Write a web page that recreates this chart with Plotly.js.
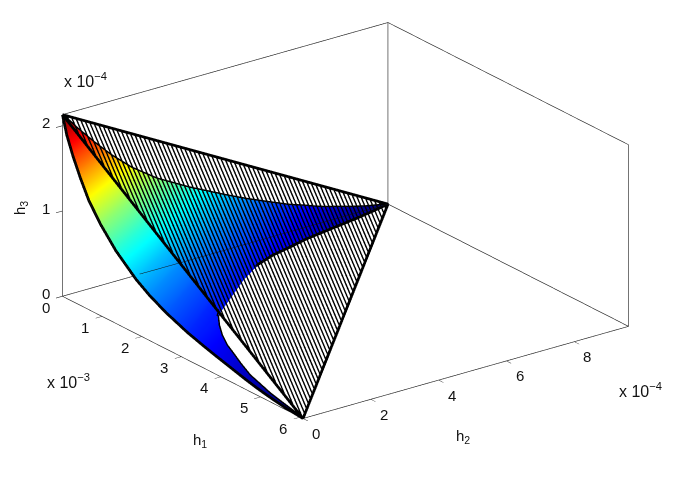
<!DOCTYPE html>
<html>
<head>
<meta charset="utf-8">
<script src="https://cdn.plot.ly/plotly-3.0.1.min.js"></script>
<style>html,body{margin:0;padding:0;background:#fff}#chart{width:685px;height:482px}</style>
</head>
<body>
<div id="chart"></div>
<script>
// axis limits
const h1Max = 6.07e-3, h2Max = 9.6e-4, h3Max = 2.13e-4;
const h1Ticks = [0, 1, 2, 3, 4, 5, 6];
const h2Ticks = [0, 2, 4, 6, 8];
const h3Ticks = [0, 1, 2];

// surface edges: h1 x1e-3, h2 x1e-4, h3 x1e-4
const levelH3 = [2.13, 1.917, 1.704, 1.491, 1.278, 1.065, 0.852, 0.639, 0.5325, 0.426, 0.3195, 0.2876, 0.2556, 0.213, 0.181, 0.149, 0.117, 0.085, 0.064, 0.043, 0.021, 0];
const outerH1 = [0, 0.109, 0.267, 0.455, 0.668, 0.971, 1.348, 1.851, 2.185, 2.61, 3.156, 3.369, 3.581, 3.885, 4.128, 4.37, 4.613, 4.886, 5.099, 5.342, 5.645, 6.07];
const upperH2 = [0, 0.442, 0.922, 1.44, 2.035, 2.784, 3.744, 4.829, 5.405, 6.029, 6.672, 6.912, 7.152, 7.44, 7.68, 7.968, 8.256, 8.544, 8.755, 8.976, 9.264, 9.6];
const cusp = 11; // level of the cusp

const innerBH1 = [2.821, 2.579, 2.331, 2.008, 1.698, 1.482, 1.261, 1.077, 0.886, 0.7, 0.515, 0.341, 0.169, 0];
const innerBH2 = [1.284, 1.626, 2.063, 2.676, 3.334, 4.0, 4.731, 5.447, 6.143, 6.862, 7.581, 8.287, 8.96, 9.6];
const innerBH3 = [0.2876, 0.2854, 0.2833, 0.279, 0.2726, 0.2641, 0.2471, 0.2173, 0.1874, 0.1448, 0.1022, 0.0639, 0.0298, 0];

const innerCH1 = [2.821, 3.055, 3.332, 3.617, 3.845, 4.177, 4.506, 4.809, 5.105, 5.479, 6.07];
const innerCH2 = [1.284, 1.04, 0.804, 0.62, 0.531, 0.38, 0.261, 0.204, 0.152, 0.1, 0];
const innerCH3 = [0.2876, 0.2641, 0.2386, 0.2087, 0.1789, 0.1448, 0.1065, 0.0788, 0.049, 0.0256, 0];

const hatchCount = 72;

const jet = [[0, '#000080'], [0.11, '#0000ff'], [0.36, '#00ffff'], [0.61, '#ffff00'], [0.86, '#ff0000'], [1, '#800000']];

const outer = levelH3.map((z, i) => [outerH1[i] * 1e-3, 0, z * 1e-4]);
const upper = levelH3.map((z, i) => [0, upperH2[i] * 1e-4, z * 1e-4]);
const innerB = innerBH1.map((v, i) => [v * 1e-3, innerBH2[i] * 1e-4, innerBH3[i] * 1e-4]);
const innerC = innerCH1.map((v, i) => [v * 1e-3, innerCH2[i] * 1e-4, innerCH3[i] * 1e-4]);
const col = (a, n) => a.map(p => p[n]);

// surface mesh, zipped between pairs of edges
const mx = [], my = [], mz = [], mi = [], mj = [], mk = [];
function strip(P, Q) {
    const base = mx.length, off = P.length;
    P.concat(Q).forEach(p => { mx.push(p[0]); my.push(p[1]); mz.push(p[2]); });
    let a = 0, b = 0;
    while (a < P.length - 1 || b < Q.length - 1) {
        const fa = (a + 1) / (P.length - 1), fb = (b + 1) / (Q.length - 1);
        mi.push(base + a); mj.push(base + off + b);
        if (b >= Q.length - 1 || (a < P.length - 1 && fa <= fb)) { mk.push(base + a + 1); a++; }
        else { mk.push(base + off + b + 1); b++; }
    }
}
strip(outer.slice(0, cusp + 1).concat([innerB[0]]), upper.slice(0, cusp + 1).concat([innerB[0]]));
strip(outer.slice(cusp), innerC);
strip(innerB, upper.slice(cusp));

// hatching on the plane through the three axis points
const hx = [], hy = [], hz = [];
const dU = -2.275e-3, dV = -1.452e-3, dW = 3.727e-3;
for (let n = 0; n <= hatchCount; n++) {
    const q = n / hatchCount;
    const len = Math.min((1 - q) / -dU, q / -dV);
    const u2 = (1 - q) + dU * len, v2 = q + dV * len, w2 = dW * len;
    hx.push(0, w2 * h1Max, null);
    hy.push(q * h2Max, v2 * h2Max, null);
    hz.push((1 - q) * h3Max, u2 * h3Max, null);
}

const curve = (a, width) => ({
    type: 'scatter3d', mode: 'lines', x: col(a, 0), y: col(a, 1), z: col(a, 2),
    line: { color: '#000', width: width || 5.5 }, hoverinfo: 'skip', showlegend: false
});

const boxX = [0, h1Max, h1Max, h1Max, h1Max, 0, 0, 0, null, 0, 0, null, 0, 0, h1Max];
const boxY = [0, 0, h2Max, h2Max, h2Max, h2Max, 0, 0, null, h2Max, h2Max, null, 0, h2Max, h2Max];
const boxZ = [0, 0, 0, h3Max, h3Max, h3Max, h3Max, 0, null, h3Max, 0, null, 0, 0, 0];

// back floor edge, seen through the surface
const backX = [0.321 * h1Max, 0.4896 * h1Max, 0], backY = [0, 0, h2Max], backZ = [0.338 * h3Max, 0.514 * h3Max, 0];

const traces = [
    {
        type: 'mesh3d', x: mx, y: my, z: mz, i: mi, j: mj, k: mk,
        intensity: mz, colorscale: jet, cmin: 0, cmax: h3Max, showscale: false,
        flatshading: false, hoverinfo: 'skip',
        lighting: { ambient: 1, diffuse: 0, specular: 0, roughness: 1, fresnel: 0 }
    },
    { type: 'scatter3d', mode: 'lines', x: boxX, y: boxY, z: boxZ, line: { color: '#222', width: 1.3 }, hoverinfo: 'skip', showlegend: false },
    { type: 'scatter3d', mode: 'lines', x: backX, y: backY, z: backZ, line: { color: '#111', width: 1 }, hoverinfo: 'skip', showlegend: false },
    { type: 'scatter3d', mode: 'lines', x: hx, y: hy, z: hz, line: { color: '#000', width: 2.8 }, hoverinfo: 'skip', showlegend: false, connectgaps: false },
    curve([[0, 0, h3Max], [0, h2Max, 0], [h1Max, 0, 0], [0, 0, h3Max]]),
    curve(outer),
    curve(upper),
    curve(innerB),
    curve(innerC)
];

const tickFont = { family: '"Liberation Sans", Arial, sans-serif', size: 15, color: '#111' };
const noteFont = { family: '"Liberation Sans", Arial, sans-serif', size: 16, color: '#111' };
const label = (x, y, z, text, xshift, yshift) => ({ x, y, z, text, xshift, yshift, showarrow: false, font: tickFont });
const sceneNotes = [
    ...h1Ticks.map(v => label(v * 1e-3, 0, 0, String(v), -17, -11)),
    ...h2Ticks.map(v => label(h1Max, v * 1e-4, 0, String(v), 13, -15)),
    ...h3Ticks.map(v => label(0, 0, v * 1e-4, String(v), -17, 3))
];

const paperNote = (px, py, text, angle, font) => ({
    xref: 'paper', yref: 'paper', x: px / 685, y: 1 - py / 482, text, showarrow: false,
    xanchor: 'center', yanchor: 'middle', textangle: angle || 0, font: font || noteFont
});

const axis = (vals, max) => ({
    range: [0, max], autorange: false, tickmode: 'array', tickvals: vals, ticks: 'outside', ticklen: 8,
    tickcolor: '#222', tickwidth: 1.2, showticklabels: false, showgrid: false, zeroline: false,
    showline: false, showbackground: false, showspikes: false, title: { text: '' }
});

const d = 3;
const zoom = 1.824;
const layout = {
    width: 685, height: 482, margin: { l: 0, r: 0, t: 0, b: 0 }, paper_bgcolor: '#fff', showlegend: false,
    annotations: [
        paperNote(68, 381, 'x 10<sup>−3</sup>'),
        paperNote(85.5, 80, 'x 10<sup>−4</sup>'),
        paperNote(640, 390, 'x 10<sup>−4</sup>'),
        paperNote(200, 440, 'h<sub>1</sub>', 0, tickFont),
        paperNote(463, 436, 'h<sub>2</sub>', 0, tickFont),
        paperNote(20, 208, 'h<sub>3</sub>', -90, tickFont)
    ],
    scene: {
        domain: { x: [0.009, 1], y: [0.085, 1] },
        aspectmode: 'manual', aspectratio: { x: 1 * zoom, y: 1.01 * zoom, z: 0.488 * zoom },
        camera: {
            projection: { type: 'orthographic' },
            up: { x: 0, y: 0, z: 1 }, center: { x: 0, y: 0, z: 0 },
            eye: { x: 0.741 * d, y: -0.553 * d, z: 0.379 * d }
        },
        xaxis: axis(h1Ticks.map(v => v * 1e-3), h1Max),
        yaxis: axis(h2Ticks.map(v => v * 1e-4), h2Max),
        zaxis: axis(h3Ticks.map(v => v * 1e-4), h3Max),
        annotations: sceneNotes
    }
};

Plotly.newPlot('chart', traces, layout, { displayModeBar: false });
</script>
</body>
</html>
